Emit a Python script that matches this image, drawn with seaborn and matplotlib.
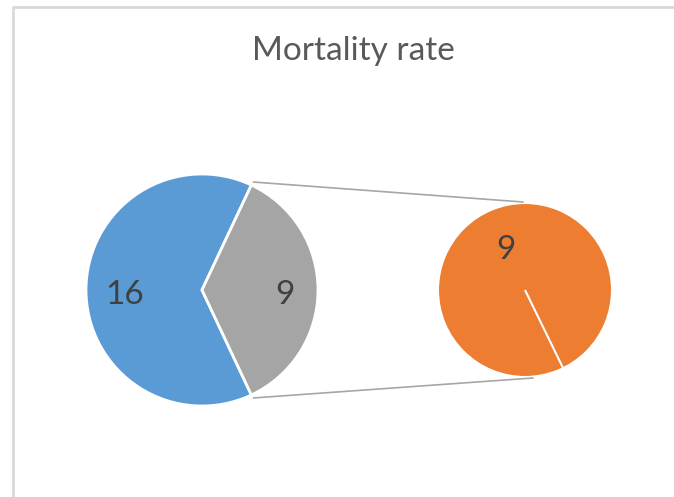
import numpy as np
import matplotlib
matplotlib.use("Agg")
import matplotlib.pyplot as plt
import seaborn as sns

# ---- data ----
title = "Mortality rate"
main_labels = ["Group A", "Other"]
main_values = [16, 9]
sub_labels = ["Group B", "Group C"]
sub_values = [9, 0]

sns.set_theme(style="white")
plt.rcParams['font.family'] = ['Lato', 'DejaVu Sans']

colors_main = ["#5B9BD5", "#A5A5A5"]
colors_sub = ["#ED7D31", "#ED7D31"]
text_color = "#404040"

W, H = 674, 497
fig = plt.figure(figsize=(W / 100, H / 100), dpi=100)
ax = fig.add_axes([0, 0, 1, 1])

# chart frame
ax.plot([13, 13, W + 5], [-5, H - 7, H - 7], color="#d9d9d9", lw=2,
        solid_capstyle="butt", clip_on=False)

# title
ax.text(353, H - 51, title, ha="center", va="center", fontsize=24,
        color="#595959")

def fmt(vals):
    tot = sum(vals)
    def f(p):
        v = p * tot / 100.0
        return f"{v:.0f}" if v > 0.5 else ""
    return f

# main pie
c1 = (202, H - 290)
r1 = 116
other_frac = main_values[1] / sum(main_values)
half = other_frac * 180.0
_, t1, a1 = ax.pie(main_values, colors=colors_main, center=c1, radius=r1,
                   startangle=half, counterclock=True,
                   autopct=fmt(main_values), pctdistance=0.69,
                   wedgeprops=dict(edgecolor="white", linewidth=2),
                   textprops=dict(color=text_color, fontsize=24),
                   frame=True)

# secondary pie
c2 = (525, H - 290)
r2 = 87
_, t2, a2 = ax.pie(sub_values, colors=colors_sub, center=c2, radius=r2,
                   startangle=-64, counterclock=True,
                   autopct=fmt(sub_values), pctdistance=0.57,
                   wedgeprops=dict(edgecolor="white", linewidth=1.5),
                   textprops=dict(color=text_color, fontsize=24),
                   frame=True)

# nudge data labels (Excel places them slightly lower/right)
for t in list(a1) + list(a2):
    x, y = t.get_position()
    t.set_position((x + 3, y - 5))

ax.set_xlim(0, W)
ax.set_ylim(0, H)
ax.set_axis_off()

# connector lines
ang = np.deg2rad(half)
p_top = (c1[0] + r1 * np.cos(ang) + 2, c1[1] + r1 * np.sin(ang) + 3)
p_bot = (c1[0] + r1 * np.cos(ang) + 2, c1[1] - r1 * np.sin(ang) - 3)
ax.plot([p_top[0], c2[0] - 2], [p_top[1], c2[1] + r2 + 1], color="#a6a6a6", lw=1.2)
ax.plot([p_bot[0], c2[0] + 8], [p_bot[1], c2[1] - r2 - 1], color="#a6a6a6", lw=1.2)

fig.savefig("out.png", dpi=100, facecolor="white")
